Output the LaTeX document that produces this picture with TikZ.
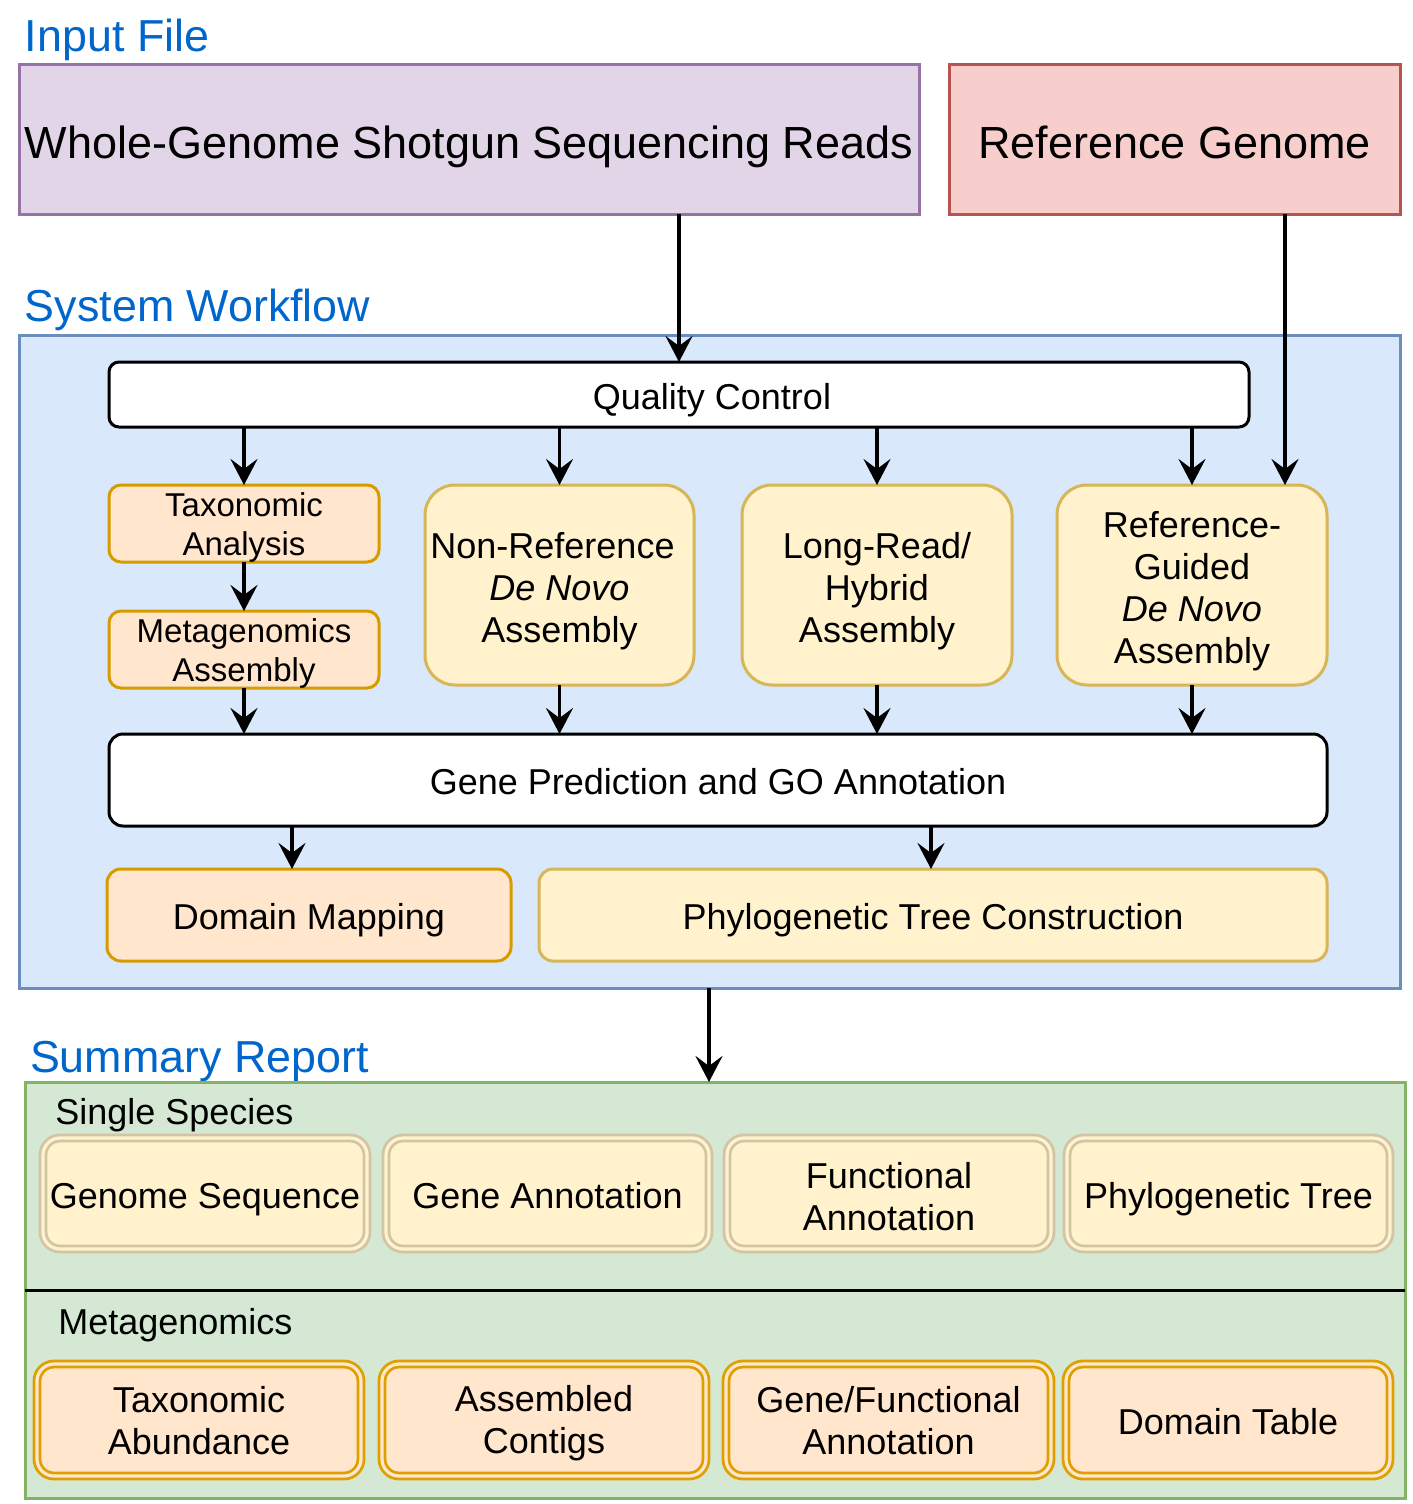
\documentclass[tikz,border=0pt]{standalone}
\usepackage{fontspec}
\setmainfont{Liberation Sans}
\usetikzlibrary{arrows.meta,calc}
\definecolor{lblblue}{HTML}{0066CC}
\definecolor{wgsfill}{HTML}{E1D5E7}\definecolor{wgsdraw}{HTML}{9673A6}
\definecolor{reffill}{HTML}{F8CECC}\definecolor{refdraw}{HTML}{B85450}
\definecolor{wffill}{HTML}{DAE8FC}\definecolor{wfdraw}{HTML}{6C8EBF}
\definecolor{orfill}{HTML}{FFE6CC}\definecolor{ordraw}{HTML}{D79B00}
\definecolor{ylfill}{HTML}{FFF2CC}\definecolor{yldraw}{HTML}{D6B656}
\definecolor{grfill}{HTML}{D5E8D4}\definecolor{grdraw}{HTML}{82B366}
\definecolor{ssdraw}{HTML}{D2C5A5}\definecolor{mgdraw}{HTML}{DDA000}
\newcommand\mystrut{\rule[-0.22em]{0pt}{1.27em}}
\newcommand\mybox[7]{\node[#2,minimum width={0.5pt*(#5-#3)},minimum height={0.5pt*(#6-#4)}] (#1) at ({(#3+#5)/2},{(#4+#6)/2}) {#7};}
% multi-line box: shape, then its text shifted down by #9 px
\newcommand\mymbox[9]{\node[base,#2,minimum width={0.5pt*(#6-#4)},minimum height={0.5pt*(#7-#5)}] (#1) at ({(#4+#6)/2},{(#5+#7)/2}) {};
  \node[base,#3] (#1t) at ({(#4+#6)/2},{(#5+#7)/2+#9}) {#8};}
\tikzset{
  base/.style={inner sep=0pt,outer sep=0pt,align=center,line width=1.5pt,text=black,
    execute at begin node=\mystrut,execute at end node=\mystrut},
  big/.style={font=\fontsize{22.5}{27}\selectfont},
  med/.style={font=\fontsize{18}{21}\selectfont},
  sml/.style={font=\fontsize{16.5}{19.5}\selectfont},
  lbl/.style={inner sep=0pt,outer sep=0pt,text=lblblue,font=\fontsize{22.4}{27}\selectfont},
  wgsbox/.style={draw=wgsdraw,fill=wgsfill},
  refbox/.style={draw=refdraw,fill=reffill},
  wfbox/.style={draw=wfdraw,fill=wffill},
  qcbox/.style={draw=black,fill=white,rounded corners=5pt},
  gpbox/.style={draw=black,fill=white,rounded corners=7pt},
  orbox/.style={draw=ordraw,fill=orfill,rounded corners=6pt},
  ylbig/.style={draw=yldraw,fill=ylfill,rounded corners=15pt},
  dmbox/.style={draw=ordraw,fill=orfill,rounded corners=7pt},
  ptbox/.style={draw=yldraw,fill=ylfill,rounded corners=7pt},
  sumbox/.style={draw=grdraw,fill=grfill},
  ssbox/.style={draw=ssdraw,fill=ylfill,double=ylfill,double distance=1.6pt,line width=1.4pt,rounded corners=8.5pt},
  mgbox/.style={draw=mgdraw,fill=orfill,double=orfill,double distance=1.6pt,line width=1.4pt,rounded corners=8.5pt},
  arr/.style={line width=1.6pt,-{Stealth[length=13pt,width=13.5pt,inset=5pt]}}
}
\begin{document}
\begin{tikzpicture}[x=0.5pt,y=-0.5pt]
\useasboundingbox (0,0) rectangle (1413,1504);
% labels
\node[lbl,anchor=base west] (inlbl) at (25,52) {Input File};
\node[lbl,anchor=base west] (wflbl) at (25,321) {System Workflow};
\node[lbl,anchor=base west] (smlbl) at (30,1072) {Summary Report};
% input
\mybox{wgs}{base,big,wgsbox}{19}{65}{919}{214}{Whole-Genome Shotgun Sequencing Reads}
\mybox{refg}{base,big,refbox}{949}{65}{1400}{214}{Reference Genome}
% workflow
\mybox{wf}{base,wfbox}{19}{335}{1400}{988}{}
\mybox{qc}{base,qcbox}{109}{362}{1249}{427}{}
\node[base,med] (qct) at (712,395) {Quality Control};
\mymbox{tax}{orbox}{sml}{109}{485}{379}{562}{Taxonomic\\Analysis}{4}
\mymbox{meta}{orbox}{sml}{109}{611}{379}{688}{Metagenomics\\Assembly}{4}
\mymbox{nr}{ylbig}{med}{425}{485}{694}{685}{\hspace*{-7pt}Non-Reference\\\textit{De Novo}\\Assembly}{6}
\mymbox{lr}{ylbig}{med}{742}{485}{1012}{685}{Long-Read/\\Hybrid\\Assembly}{6}
\mymbox{rgd}{ylbig}{med}{1057}{485}{1327}{685}{Reference-\\Guided\\\textit{De Novo}\\Assembly}{6}
\mybox{gp}{base,med,gpbox}{109}{734}{1327}{826}{Gene Prediction and GO Annotation}
\mybox{dm}{base,med,dmbox}{107}{869}{511}{961}{Domain Mapping}
\mybox{pt}{base,med,ptbox}{539}{869}{1327}{961}{Phylogenetic Tree Construction}
% summary
\mybox{sum}{base,sumbox}{25}{1082}{1405}{1498}{}
\coordinate (dv) at (0,1290);
\draw[line width=1.5pt] (dv -| sum.west) -- (dv -| sum.east);
\node[inner sep=0pt,med,anchor=base west] (sslbl) at (55,1124) {Single Species};
\node[inner sep=0pt,med,anchor=base west] (mglbl) at (58,1334) {Metagenomics};
\mybox{ss1}{base,med,ssbox}{43}{1138}{367}{1249}{Genome Sequence}
\mybox{ss2}{base,med,ssbox}{386}{1138}{709}{1249}{Gene Annotation}
\mymbox{ss3}{ssbox}{med}{727}{1138}{1051}{1249}{Functional\\Annotation}{7}
\mybox{ss4}{base,med,ssbox}{1067}{1138}{1390}{1249}{Phylogenetic Tree}
\mymbox{mg1}{mgbox}{med}{37}{1364}{361}{1476}{Taxonomic\\Abundance}{4}
\mymbox{mg2}{mgbox}{med}{382}{1364}{706}{1476}{Assembled\\Contigs}{3}
\mymbox{mg3}{mgbox}{med}{726}{1364}{1051}{1476}{Gene/Functional\\Annotation}{4}
\mybox{mg4}{base,med,mgbox}{1066}{1364}{1390}{1476}{Domain Table}
% connectors
\coordinate (x1285) at (1285,0);
\coordinate (x292) at (292,0);
\coordinate (x931) at (931,0);
\coordinate (x709) at (709,0);
\draw[arr] (wgs.south -| qc.north) -- (qc.north);
\draw[arr] (refg.south -| x1285) -- (rgd.north -| x1285);
\draw[arr] (qc.south -| tax.north) -- (tax.north);
\draw[arr] (qc.south -| nr.north) -- (nr.north);
\draw[arr] (qc.south -| lr.north) -- (lr.north);
\draw[arr] (qc.south -| rgd.north) -- (rgd.north);
\draw[arr] (tax.south) -- (meta.north);
\draw[arr] (meta.south) -- (meta.south |- gp.north);
\draw[arr] (nr.south) -- (nr.south |- gp.north);
\draw[arr] (lr.south) -- (lr.south |- gp.north);
\draw[arr] (rgd.south) -- (rgd.south |- gp.north);
\draw[arr] (gp.south -| x292) -- (dm.north -| x292);
\draw[arr] (gp.south -| x931) -- (pt.north -| x931);
\draw[arr] (wf.south -| x709) -- (sum.north -| x709);
\end{tikzpicture}
\end{document}
